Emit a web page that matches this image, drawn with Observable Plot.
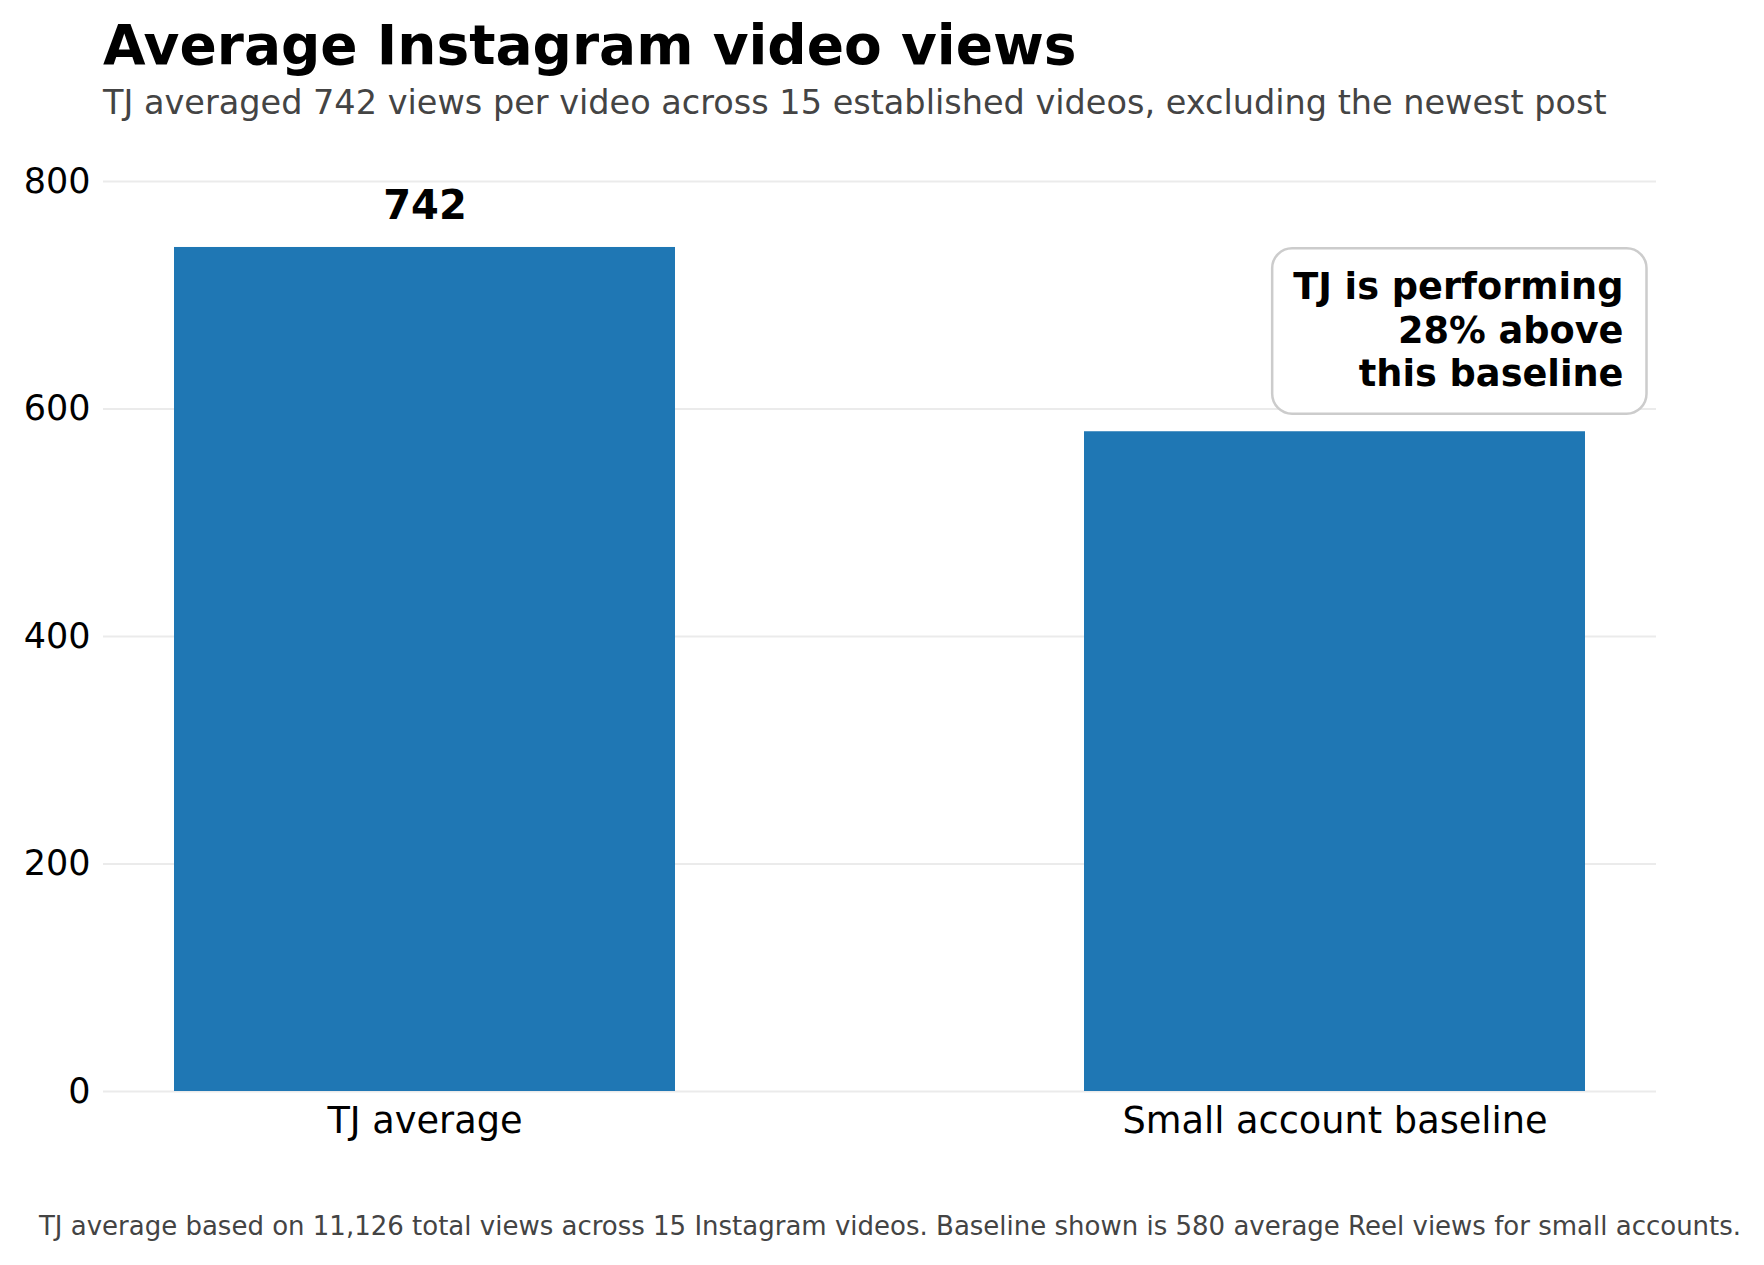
<!DOCTYPE html>
<html><head><meta charset="utf-8">
<script src="https://cdn.jsdelivr.net/npm/d3@7"></script>
<script src="https://cdn.jsdelivr.net/npm/@observablehq/plot@0.6"></script>
<style>
html,body{margin:0;padding:0;background:#fff;}
#wrap{width:1764px;height:1265px;position:relative;font-family:"DejaVu Sans",sans-serif;overflow:hidden;background:#fff;}
#title{position:absolute;left:103px;top:13px;font-size:55px;font-weight:bold;line-height:64px;color:#000;white-space:nowrap;}
#subtitle{position:absolute;left:103px;top:84px;font-size:33.5px;line-height:38px;color:#444;white-space:nowrap;}
#chart{position:absolute;left:0;top:121px;}
#footer{position:absolute;left:8px;width:1764px;top:1211px;font-size:26px;line-height:30px;color:#444;text-align:center;white-space:nowrap;}
</style>
</head>
<body>
<div id="wrap">
  <div id="title">Average Instagram video views</div>
  <div id="subtitle">TJ averaged 742 views per video across 15 established videos, excluding the newest post</div>
  <div id="chart"></div>
  <div id="footer">TJ average based on 11,126 total views across 15 Instagram videos. Baseline shown is 580 average Reel views for small accounts.</div>
</div>
<script>
const categories = ["TJ average", "Small account baseline"];
const views = [742, 580];
const yTicks = [0, 200, 400, 600, 800];
const annotationText = "TJ is performing\n28% above\nthis baseline";

const data = categories.map((c, i) => ({category: c, views: views[i]}));

const chart = Plot.plot({
  width: 1764,
  height: 1049,
  marginLeft: 103,
  marginRight: 108,
  marginTop: 60,
  marginBottom: 79,
  style: {fontFamily: '"DejaVu Sans", sans-serif', background: "white", color: "#000", overflow: "visible"},
  x: {domain: categories, paddingInner: 0.45, paddingOuter: 0.0775, label: null},
  y: {domain: [0, 800], label: null},
  marks: [
    Plot.gridY(yTicks, {stroke: "#ebebeb", strokeOpacity: 1, strokeWidth: 2}),
    Plot.barY(data, {x: "category", y: "views", fill: "#1f77b4"}),
    Plot.axisY(yTicks, {tickSize: 0, tickPadding: 13, fontSize: 35, label: null, fill: "#000"}),
    Plot.axisX({tickSize: 0, tickPadding: 15, fontSize: 36.7, label: null, fill: "#000"}),
    Plot.text([data[0]], {x: "category", y: "views", text: d => String(d.views), lineAnchor: "bottom", dy: -28, fontSize: 40, fontWeight: "bold", fill: "#000"}),
    Plot.text([{text: annotationText, y: views[0]}], {
      y: "y", text: "text", frameAnchor: "right", textAnchor: "end", lineAnchor: "top",
      lineHeight: 1.18, dx: -33, dy: 21, fontSize: 36.7, fontWeight: "bold", fill: "#000"
    })
  ]
});
document.getElementById("chart").appendChild(chart);

// rounded box behind the annotation, sized from its text (inside the same group so it shares its offset)
const textGroups = chart.querySelectorAll('g[aria-label="text"]');
const g = textGroups[textGroups.length - 1];
if (g) {
  const bb = g.getBBox();
  const ns = "http://www.w3.org/2000/svg";
  const rect = document.createElementNS(ns, "rect");
  rect.setAttribute("x", bb.x - 21);
  rect.setAttribute("y", bb.y - 17);
  rect.setAttribute("width", bb.width + 44);
  rect.setAttribute("height", bb.height + 36);
  rect.setAttribute("rx", 20);
  rect.setAttribute("ry", 20);
  rect.setAttribute("fill", "white");
  rect.setAttribute("stroke", "#cccccc");
  rect.setAttribute("stroke-width", 2.5);
  g.insertBefore(rect, g.firstChild);
}
</script>
</body></html>
